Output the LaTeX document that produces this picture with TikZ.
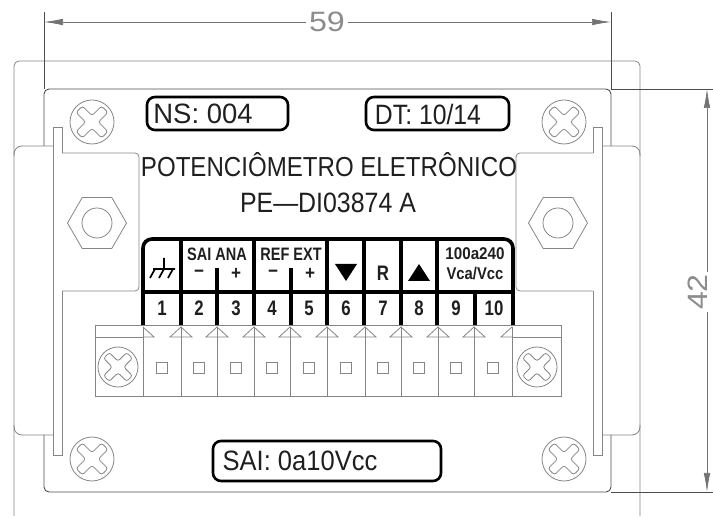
\documentclass[tikz,border=0pt]{standalone}
\usepackage{fontspec}
\setmainfont{Liberation Sans}
\usetikzlibrary{arrows.meta,shapes.geometric}
\definecolor{thin}{gray}{0.52}
\definecolor{dim}{gray}{0.45}
\tikzset{
  x=1pt,y=-1pt,
  part/.style={draw=thin,line width=0.8pt},
  panel/.style={draw=black!70,line width=0.9pt},
  dimline/.style={draw=dim,line width=0.7pt},
  arrowed/.style={-{Latex[length=19pt,width=6.5pt]}},
  thick box/.style={draw=black,line width=2.6pt,rounded corners=8pt},
  grid/.style={draw=black,line width=3.6pt},
  term/.style={draw=thin,line width=0.8pt},
  lbl/.style={inner sep=0pt,text=black!88},
  dimtext/.style={inner sep=0pt,text=black!45},
}
\newcommand{\Txt}[5]{\node[lbl] (#1) at (#2) {\scalebox{#5}[1]{\fontsize{#3}{#3}\selectfont #4}};}
\newcommand{\screw}[4]{%
  \node[circle,draw=thin,line width=0.8pt,minimum size=#4pt,inner sep=0pt] (#1) at (#2,#3) {};
  \begin{scope}[shift={(#2,#3)},rotate=45,scale=#4/44]
    \draw[part,rounded corners=2.5pt,line width=0.8pt]
      (-4.5,-4.5)--(-4.5,-18)--(4.5,-18)--(4.5,-4.5)--(18,-4.5)--(18,4.5)--(4.5,4.5)--(4.5,18)--(-4.5,18)--(-4.5,4.5)--(-18,4.5)--(-18,-4.5)--cycle;
  \end{scope}}
\newcommand{\nut}[3]{%
  \node[regular polygon,regular polygon sides=6,draw=thin,line width=0.8pt,minimum size=59pt,inner sep=0pt] (#1) at (#2,#3) {};
  \node[circle,draw=thin,line width=0.8pt,minimum size=30pt,inner sep=0pt] (#1c) at (#2,#3) {};}
\begin{document}
\begin{tikzpicture}
\useasboundingbox (0,0) rectangle (713,518);
% outer housing
\draw[part,rounded corners=5pt] (14,516) -- (14,61) -- (640,61) -- (640,516);
% inner panel
\draw[panel,rounded corners=5pt] (44,146) -- (44,89) -- (611,89) -- (611,146);
\draw[panel,rounded corners=5pt] (44,435) -- (44,492) -- (611,492) -- (611,435);
\draw[panel] (611,89) -- (713,89) (611,492) -- (713,492);
% side brackets
\draw[part,rounded corners=8pt] (14,156) -- (14,146) -- (53,146);
\draw[part,rounded corners=8pt] (14,425) -- (14,435) -- (53,435);
\draw[part,rounded corners=8pt] (640,156) -- (640,146) -- (603,146);
\draw[part,rounded corners=8pt] (640,425) -- (640,435) -- (603,435);
\draw[part] (62,153) -- (62,127) -- (53,127) -- (53,455) -- (62,455) -- (62,291);
\draw[part] (593,153) -- (593,127) -- (602,127) -- (602,455) -- (593,455) -- (593,291);
\draw[part,rounded corners=4pt] (62,153) -- (139,153) -- (139,291) -- (62,291);
\draw[part,rounded corners=4pt] (593,153) -- (516,153) -- (516,291) -- (593,291);
% dimensions
\coordinate (dl) at (44,22); \coordinate (dr) at (611,22);
\coordinate (vt) at (707,89); \coordinate (vb) at (707,492);
\draw[panel] (44,12) -- (44,89) (611,12) -- (611,89);
\node[dimtext] (d59) at (327,22) {\scalebox{1.15}[1]{\fontsize{28}{28}\selectfont 59}};
\node[dimtext,rotate=90] (d42) at (698,292) {\scalebox{1.15}[1]{\fontsize{28}{28}\selectfont 42}};
\draw[dimline,arrowed] (306,22) -- (dl);
\draw[dimline,arrowed] (348,22) -- (dr);
\draw[dimline,arrowed] (707,272) -- (vt);
\draw[dimline,arrowed] (707,312) -- (vb);
% screws and nuts
\screw{s1}{92}{122}{44}
\screw{s2}{564}{122}{44}
\screw{s3}{92}{459}{44}
\screw{s4}{564}{459}{44}
\screw{s5}{118}{367}{40}
\screw{s6}{537}{367}{40}
\nut{n1}{97}{223}
\nut{n2}{558}{223}
% label boxes
\draw[thick box] (147,97) rectangle (288,130);
\draw[thick box] (366,97) rectangle (509,130);
\draw[thick box] (213,441) rectangle (441,481);
\Txt{tns}{203,114}{28}{NS: 004}{0.98}
\Txt{tdt}{428,114}{28}{DT: 10/14}{0.885}
\Txt{tsai}{300,461}{28}{SAI: 0a10Vcc}{0.912}
\Txt{tt1}{329,165}{27.5}{POTENCIÔMETRO ELETRÔNICO}{0.876}
\Txt{tt2}{328,203}{28}{PE—DI03874 A}{0.89}
% terminal block
\draw[term] (95,325) rectangle (561,396);
\draw[term] (95,337) -- (143,337) (512,337) -- (561,337);
\foreach \x/\n in {143/a,181/b,217/c,254/d,290/e,327/f,365/g,401/h,438/i,474/j,512/k}
  \draw[term] (\x,327) -- (\x,396);
\foreach \x in {181,217,254,290,327,365,401,438,474}
  \draw[term] (\x-11,337) -- (\x,327) -- (\x+11,337) -- cycle;
\draw[term] (143,327) -- (154,337) -- (143,337);
\draw[term] (512,327) -- (501,337) -- (512,337);
\foreach \x in {162,199,236,272,309,346,383,419,456,493}
  \draw[term] (\x-5.5,362.5) rectangle (\x+5.5,373.5);
% table lines
\draw[grid,rounded corners=9pt] (143,325) -- (143,239) -- (513,239) -- (513,325);
\draw[grid,line width=4.4pt] (143,292) -- (513,292);
\foreach \x in {181,254,327,364,401,437}
  \draw[grid] (\x,239) -- (\x,325);
\foreach \x in {217,291}
  \draw[grid] (\x,268) -- (\x,325);
\draw[grid] (475,292) -- (475,325);
% table text
\Txt{h1}{217,254}{18}{\bfseries SAI ANA}{0.806}
\Txt{h2}{291,254}{18}{\bfseries REF EXT}{0.806}
\Txt{h3}{475,254}{17}{\bfseries 100a240}{0.895}
\Txt{h4}{475,274}{17}{\bfseries Vca/Vcc}{0.87}
\Txt{m1}{199,274}{19}{\bfseries −}{0.9}
\Txt{p1}{236,274}{19}{\bfseries +}{0.9}
\Txt{m2}{273,274}{19}{\bfseries −}{0.9}
\Txt{p2}{310,274}{19}{\bfseries +}{0.9}
\Txt{rr}{383,273}{21}{\bfseries R}{0.8}
\fill[black] (335,264) -- (357,264) -- (346,281) -- cycle;
\fill[black] (408,281) -- (430,281) -- (419,264) -- cycle;
\foreach \n/\x in {1/162,2/199,3/236,4/272,5/309,6/346,7/383,8/419,9/456,10/494}
  \node[lbl] (num\n) at (\x,308) {\scalebox{0.8}[1]{\fontsize{21}{21}\selectfont\bfseries \n}};
% ground symbol
\draw[black,line width=1.7pt] (164,258) -- (164,269) (153,269) -- (175,269)
  (155,269) -- (150,278) (164,269) -- (159,278) (173,269) -- (168,278);
\end{tikzpicture}
\end{document}
